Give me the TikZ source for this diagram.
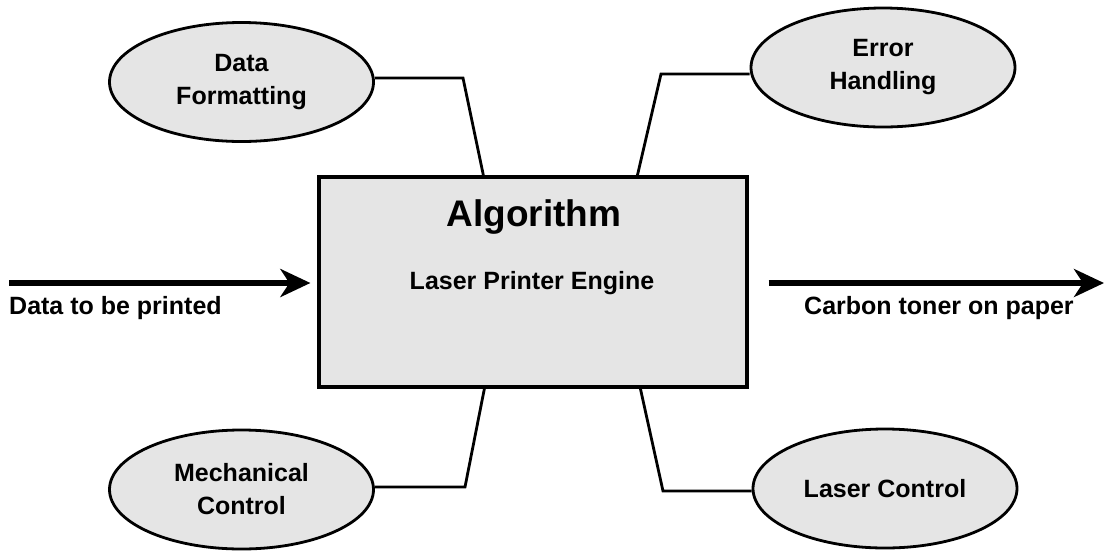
\documentclass[tikz,border=0pt]{standalone}
\usepackage{fontspec}
\setmainfont{Liberation Sans}
\usetikzlibrary{shapes.geometric,arrows.meta,calc}
\definecolor{boxgray}{HTML}{E5E5E5}
\tikzset{
  oval/.style={ellipse, draw=black, line width=2.8pt, fill=boxgray, minimum width=264pt, minimum height=119pt, inner sep=0pt, align=center, font=\fontsize{25}{33}\selectfont\bfseries},
  mainbox/.style={draw=black, line width=3.2pt, fill=boxgray, minimum width=428pt, minimum height=210pt, inner sep=0pt},
  link/.style={line width=2.8pt, line join=miter},
  flow/.style={line width=5.5pt, -{Stealth[length=30pt,width=28pt,inset=9pt]}},
  lbl/.style={font=\fontsize{25}{30}\selectfont\bfseries, inner sep=0pt, anchor=west}
}
\begin{document}
\begin{tikzpicture}[x=1pt,y=-1pt]
\useasboundingbox (0,0) rectangle (1104,550);
\node[mainbox] (alg) at (533,282) {};
\node[font=\fontsize{37}{44}\selectfont\bfseries, inner sep=0pt, anchor=base] (algt) at (534,226) {Algorithm};
\node[font=\fontsize{25}{30}\selectfont\bfseries, inner sep=0pt, anchor=base] (lpe) at (532,289) {Laser Printer Engine};

\node[oval] (df) at (241.5,82) {Data\\Formatting};
\node[oval] (eh) at (883,67.5) {Error\\Handling};
\node[oval] (mc) at (241.5,489.5) {Mechanical\\Control};
\node[oval] (lc) at (885,488.5) {Laser Control};

\coordinate (dfk) at (463,78);
\coordinate (ehk) at (661,74);
\coordinate (mck) at (465,487);
\coordinate (lck) at (663,491);

\draw[link] (df.east |- dfk) -- (dfk) -- ([xshift=166pt]alg.north west);
\draw[link] (eh.west |- ehk) -- (ehk) -- ([xshift=320pt]alg.north west);
\draw[link] (mc.east |- mck) -- (mck) -- ([xshift=167pt]alg.south west);
\draw[link] (lc.west |- lck) -- (lck) -- ([xshift=323pt]alg.south west);

\coordinate (src) at (9,283);
\coordinate (dst) at (1104,283);
\draw[flow, shorten >=7pt] (src) -- (src -| alg.west);
\draw[flow, shorten <=20pt] (dst -| alg.east) -- (dst);

\node[lbl] (inl) at (9,308) {Data to be printed};
\node[lbl] (outl) at (804,308) {Carbon toner on paper};
\end{tikzpicture}
\end{document}
